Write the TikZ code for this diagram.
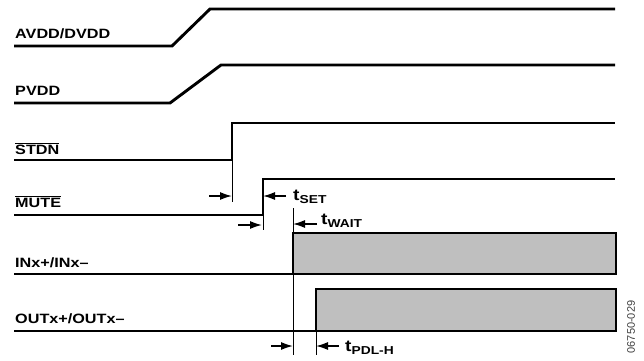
\documentclass[tikz,border=0pt]{standalone}
\usepackage{fontspec}
\setmainfont{Liberation Sans}[FakeStretch=1.2]
\newfontfamily\plainsans{Liberation Sans}
\usetikzlibrary{arrows.meta,positioning,calc}

\begin{document}
\begin{tikzpicture}[x=1pt, y=-1pt, >={Latex[length=12pt,width=8pt]},
  sig/.style={line width=2.9pt, line join=miter},
  pulse/.style={sig, fill=black!25},
  marker/.style={line width=0.9pt},
  tarrow/.style={->, line width=1.5pt},
  lbl/.style={anchor=base west, inner sep=0pt, font=\fontsize{13.5}{15}\selectfont\bfseries},
  tlbl/.style={anchor=base west, inner sep=0pt, font=\fontsize{16}{17}\selectfont\bfseries}]
  \useasboundingbox (0,0) rectangle (644,360);
  % общие параметры
  \def\xl{14}
  \def\xr{615}
  \newcommand{\subt}[1]{\raisebox{-3.5pt}{\fontsize{11.5}{12}\selectfont #1}}

  % питание
  \draw[sig] (\xl,46) -- (172,46) -- (210,9) -- (\xr,9);
  \draw[sig] (\xl,103) -- (170,103) -- (221,65) -- (\xr,65);
  \node[lbl] (avdd) at (15,38) {AVDD/DVDD};
  \node[lbl] (pvdd) at (15,95.5) {PVDD};

  % управление
  \coordinate (stdn) at (232,160);
  \coordinate (mute) at (263,215);
  \draw[sig] (\xl,160) -- (stdn) -- (232,123) -- (\xr,123);
  \draw[sig] (\xl,215) -- (mute) -- (263,179) -- (\xr,179);
  \node[lbl] (stdnl) at (15,154) {$\overline{\hbox{STDN}}$};
  \node[lbl] (mutel) at (15,207) {$\overline{\hbox{MUTE}}$};

  % вход и выход
  \coordinate (inx) at (293,274);
  \coordinate (outx) at (316,331);
  \draw[sig] (\xl,274) -- (inx);
  \draw[pulse] (inx) rectangle (616,233);
  \draw[sig] (\xl,331) -- (outx);
  \draw[pulse] (outx) rectangle (616,289);
  \node[lbl] (inxl) at (15,267) {INx+/INx–};
  \node[lbl] (outxl) at (15,323) {OUTx+/OUTx–};

  % отметки времени
  \draw[marker] (stdn) -- ++(0,42) coordinate (stdnm);
  \draw[marker] (263,179) -- ++(0,51) coordinate (mutem);
  \draw[marker] (293,208) -- (293,355) coordinate (inxm);
  \draw[marker] (outx) -- ++(0,24) coordinate (outxm);

  \draw[tarrow] (209,196) -- (stdn |- 0,196);
  \draw[tarrow] (286,196) -- (mute |- 0,196);
  \node[tlbl] (tset) at (293,200) {t\subt{SET}};
  \draw[tarrow] (238,225) -- (262,225);
  \draw[tarrow] (317,224) -- (inx |- 0,224);
  \node[tlbl] (twait) at (321,224) {t\subt{WAIT}};
  \draw[tarrow] (271,346) -- (inx |- 0,346);
  \draw[tarrow] (339,346) -- (outx |- 0,346);
  \node[tlbl] (tpdl) at (345,351) {t\subt{PDL-H}};

  \node[rotate=90, inner sep=0pt, text=black!75, font=\plainsans\fontsize{11}{12}\selectfont] (fig) at (631,327) {06750-029};
\end{tikzpicture}
\end{document}
